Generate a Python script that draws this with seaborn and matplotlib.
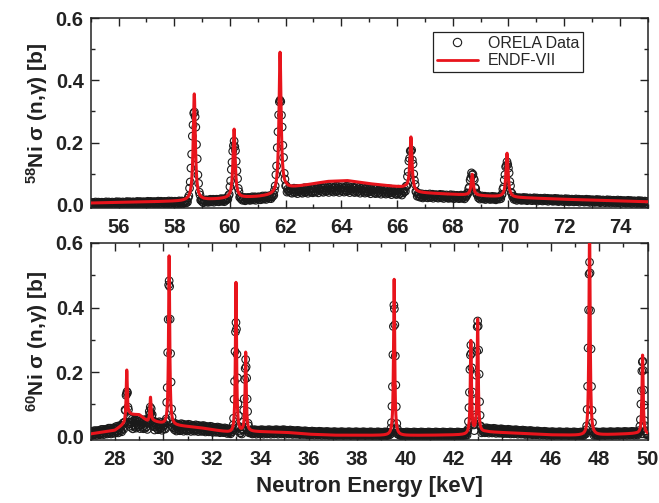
import matplotlib
matplotlib.use("Agg")
from matplotlib import pyplot as plt
from matplotlib.lines import Line2D
from matplotlib.ticker import MultipleLocator
import numpy as np
import pandas as pd
import seaborn as sns

# ---- 58Ni panel ----
ni58_res_energy = [58.72, 60.15, 61.80, 66.50, 68.70, 69.95]
ni58_line_peak = [0.356, 0.243, 0.490, 0.218, 0.098, 0.166]
ni58_data_peak = [0.300, 0.200, 0.340, 0.176, 0.100, 0.136]
ni58_bg_energy = [55.0, 58.3, 59.5, 61.0, 61.7, 62.0, 62.5, 63.5, 64.2, 65.0, 66.3, 66.6, 68.4, 70.1, 72.0, 75.0]
ni58_bg_line = [0.006, 0.012, 0.018, 0.026, 0.032, 0.052, 0.060, 0.075, 0.078, 0.068, 0.055, 0.040, 0.032, 0.024, 0.018, 0.010]
ni58_bg_data = [0.004, 0.008, 0.014, 0.021, 0.027, 0.045, 0.045, 0.050, 0.050, 0.046, 0.040, 0.030, 0.025, 0.020, 0.015, 0.008]
ni58_noise = [0.005, 0.005, 0.005, 0.006, 0.006, 0.008, 0.009, 0.010, 0.010, 0.010, 0.009, 0.007, 0.006, 0.005, 0.005, 0.005]

# ---- 60Ni panel ----
ni60_res_energy = [28.49, 29.47, 30.24, 33.00, 33.40, 39.53, 42.70, 42.98, 47.60, 49.79]
ni60_line_peak = [0.207, 0.122, 0.560, 0.477, 0.260, 0.490, 0.295, 0.362, 0.680, 0.254]
ni60_data_peak = [0.140, 0.087, 0.495, 0.353, 0.235, 0.410, 0.280, 0.365, 0.543, 0.238]
ni60_bg_energy = [27.0, 28.0, 28.4, 28.6, 29.0, 29.35, 29.6, 30.1, 30.5, 31.5, 32.5, 32.9, 33.6, 35.0, 36.0, 37.0, 40.0, 42.5, 43.3, 44.3, 46.0, 47.4, 49.5, 50.0]
ni60_bg_line = [0.009, 0.020, 0.040, 0.068, 0.068, 0.047, 0.048, 0.037, 0.035, 0.028, 0.016, 0.010, 0.016, 0.014, 0.008, 0.005, 0.004, 0.006, 0.015, 0.012, 0.006, 0.004, 0.010, 0.008]
ni60_bg_data = [0.010, 0.020, 0.030, 0.040, 0.042, 0.036, 0.035, 0.032, 0.030, 0.026, 0.020, 0.015, 0.015, 0.015, 0.012, 0.010, 0.009, 0.009, 0.020, 0.016, 0.010, 0.009, 0.011, 0.010]
ni60_noise = [0.007, 0.010, 0.014, 0.016, 0.016, 0.015, 0.014, 0.012, 0.012, 0.010, 0.008, 0.008, 0.007, 0.007, 0.006, 0.006, 0.006, 0.006, 0.008, 0.007, 0.006, 0.006, 0.006, 0.006]

# fixed wiggle pattern for the scattered data band
wiggle = [0.1, 0.8, -0.6, 0.4, -0.9, 0.6, -0.2, 1.0, -0.7, 0.3, -0.4, 0.9, -1.0, 0.5, -0.3]


def spectrum(E, bg_E, bg, centers, peaks, width, shape):
    base = np.interp(E, bg_E, bg)
    y = base.copy()
    for c, p in zip(centers, peaks):
        h = p - np.interp(c, bg_E, bg)
        if shape == "lorentz":
            y += h * width**2 / ((E - c)**2 + width**2)
        else:
            y += h * np.exp(-0.5 * ((E - c) / width)**2)
    return y


def make_frames(emin, emax, step, bg_E, bg_line, bg_data, noise, centers, line_pk, data_pk, w_line, w_data):
    E_line = np.arange(emin, emax + 0.002, 0.004)
    line = pd.DataFrame({"E": E_line,
                         "sigma": spectrum(E_line, bg_E, bg_line, centers, line_pk, w_line, "lorentz")})
    E_data = np.arange(emin, emax + 0.001, step)
    wig = np.resize(wiggle, len(E_data))
    y = spectrum(E_data, bg_E, bg_data, centers, data_pk, w_data, "gauss") + wig * np.interp(E_data, bg_E, noise)
    data = pd.DataFrame({"E": E_data, "sigma": y})
    return line, data


sns.set_theme(style="ticks")
plt.rcParams["font.family"] = ["Liberation Sans", "DejaVu Sans"]
plt.rcParams["mathtext.fontset"] = "custom"
plt.rcParams["mathtext.rm"] = "Liberation Sans:bold"
plt.rcParams["mathtext.bf"] = "Liberation Sans:bold"
plt.rcParams["mathtext.it"] = "Liberation Sans:bold"

fig = plt.figure(figsize=(6.59, 5.03), dpi=100)
ax_top = fig.add_axes([0.1376, 0.5865, 0.8452, 0.3777])
ax_bot = fig.add_axes([0.1376, 0.1252, 0.8452, 0.3917])

red = "#e8141c"
ink = "#222222"
panels = [
    (ax_top, make_frames(55, 75, 0.025, ni58_bg_energy, ni58_bg_line, ni58_bg_data, ni58_noise,
                         ni58_res_energy, ni58_line_peak, ni58_data_peak, 0.045, 0.085),
     (55, 75), "$^{58}$Ni σ (n,γ) [b]"),
    (ax_bot, make_frames(27, 50, 0.02, ni60_bg_energy, ni60_bg_line, ni60_bg_data, ni60_noise,
                         ni60_res_energy, ni60_line_peak, ni60_data_peak, 0.028, 0.05),
     (27, 50), "$^{60}$Ni σ (n,γ) [b]"),
]

for ax, (line, data), xlim, ylab in panels:
    sns.scatterplot(data=data, x="E", y="sigma", ax=ax, marker="o", s=30,
                    facecolor="none", edgecolor="#1a1a1a", linewidth=0.8, zorder=2)
    sns.lineplot(data=line, x="E", y="sigma", ax=ax, color=red, lw=2.2, zorder=3)
    ax.set_xlim(*xlim)
    ax.set_ylim(-0.01, 0.6)
    ax.xaxis.set_major_locator(MultipleLocator(2))
    ax.xaxis.set_minor_locator(MultipleLocator(1))
    ax.yaxis.set_major_locator(MultipleLocator(0.2))
    ax.yaxis.set_minor_locator(MultipleLocator(0.1))
    ax.tick_params(which="both", direction="in", top=True, right=True, width=1, colors=ink)
    ax.tick_params(which="major", length=6, labelsize=14.5)
    ax.tick_params(axis="x", which="major", pad=7)
    ax.tick_params(axis="y", which="major", pad=5)
    ax.tick_params(which="minor", length=3)
    ax.yaxis.set_major_formatter(plt.FuncFormatter(lambda v, p: f"{v:.1f}"))
    for lab in ax.get_xticklabels() + ax.get_yticklabels():
        lab.set_fontweight("bold")
    for sp in ax.spines.values():
        sp.set_linewidth(1.1)
        sp.set_color(ink)
    ax.set_xlabel("")
    ax.set_ylabel(ylab, fontsize=15, fontweight="bold", color=ink, labelpad=4)

ax_bot.set_xlabel("Neutron Energy [keV]", fontsize=16, fontweight="bold", color=ink, labelpad=5)

handles = [Line2D([], [], ls="none", marker="o", mfc="none", mec="#1a1a1a", ms=6, mew=0.8),
           Line2D([], [], color=red, lw=2)]
leg = ax_top.legend(handles, ["ORELA Data", "ENDF-VII"], loc="upper right",
                    bbox_to_anchor=(0.884, 0.926), borderaxespad=0, fontsize=11.5,
                    fancybox=False, framealpha=1, edgecolor=ink,
                    handlelength=2.6, borderpad=0.25, labelspacing=0.15, handletextpad=0.6)
leg.get_frame().set_linewidth(0.9)

fig.savefig("out.png", dpi=100)
